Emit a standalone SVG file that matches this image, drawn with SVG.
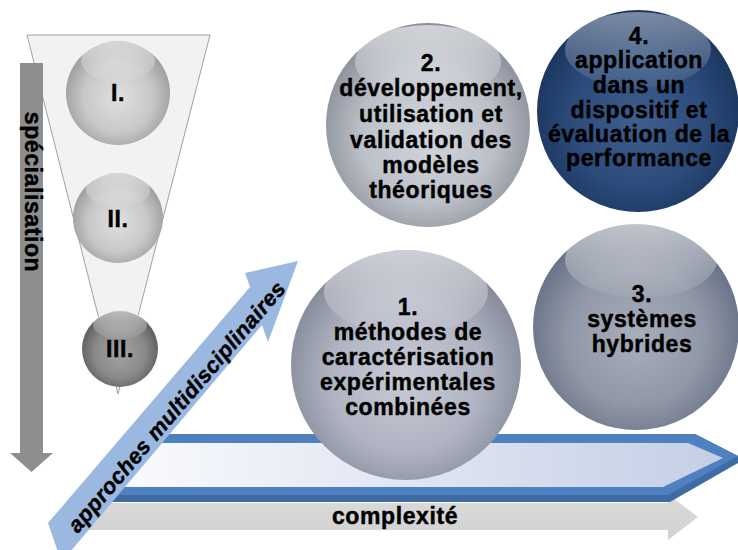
<svg xmlns="http://www.w3.org/2000/svg" width="738" height="550" viewBox="0 0 738 550">
<style>
  .t{font-family:"Liberation Sans",Arial,sans-serif;font-weight:bold;font-size:23px;fill:#000;stroke:#000;stroke-width:0.45px;text-anchor:middle;letter-spacing:0.6px}
  .ti{font-style:italic;font-size:22px;letter-spacing:0.4px}
</style>
<defs>
  <radialGradient id="gS1" cx="50%" cy="55%" r="55%">
    <stop offset="0" stop-color="#c8cbd6"/><stop offset="0.6" stop-color="#b0b4c2"/><stop offset="1" stop-color="#838898"/>
  </radialGradient>
  <radialGradient id="gS2" cx="50%" cy="55%" r="55%">
    <stop offset="0" stop-color="#d3d6dd"/><stop offset="0.6" stop-color="#bcc0c8"/><stop offset="1" stop-color="#898e99"/>
  </radialGradient>
  <radialGradient id="gS3" cx="50%" cy="55%" r="55%">
    <stop offset="0" stop-color="#a9aebb"/><stop offset="0.6" stop-color="#9097a6"/><stop offset="1" stop-color="#667085"/>
  </radialGradient>
  <radialGradient id="gS4" cx="50%" cy="55%" r="55%">
    <stop offset="0" stop-color="#3f5f8d"/><stop offset="0.6" stop-color="#2c4b7a"/><stop offset="1" stop-color="#19345e"/>
  </radialGradient>
  <radialGradient id="gL1" cx="50%" cy="55%" r="55%">
    <stop offset="0" stop-color="#e0e0e0"/><stop offset="0.6" stop-color="#c8c8c8"/><stop offset="1" stop-color="#9a9a9a"/>
  </radialGradient>
  <radialGradient id="gL3" cx="50%" cy="55%" r="55%">
    <stop offset="0" stop-color="#a4a4a4"/><stop offset="0.6" stop-color="#8a8a8a"/><stop offset="1" stop-color="#595959"/>
  </radialGradient>
  <linearGradient id="hl" x1="0" y1="0" x2="0" y2="1">
    <stop offset="0" stop-color="#fff" stop-opacity="0.6"/><stop offset="1" stop-color="#fff" stop-opacity="0.05"/>
  </linearGradient>
  <linearGradient id="hl4" x1="0" y1="0" x2="0" y2="1">
    <stop offset="0" stop-color="#fff" stop-opacity="0.42"/><stop offset="1" stop-color="#fff" stop-opacity="0.06"/>
  </linearGradient>
  <linearGradient id="band" x1="0" y1="0" x2="1" y2="0">
    <stop offset="0" stop-color="#fafbfd"/><stop offset="1" stop-color="#c4cfe6"/>
  </linearGradient>
  <linearGradient id="grayBar" x1="0" y1="0" x2="0" y2="1">
    <stop offset="0" stop-color="#dadada"/><stop offset="1" stop-color="#d2d2d2"/>
  </linearGradient>
</defs>

<g id="funnel">
  <polygon points="27,35 210,35 118,394" fill="#f2f2f2" stroke="#a0a0a0" stroke-width="1"/>
</g>

<g id="n-I">
  <circle cx="118" cy="93" r="52" fill="url(#gL1)"/>
  <ellipse cx="118" cy="61" rx="37" ry="20" fill="url(#hl)"/>
  <text class="t" x="118" y="101">I.</text>
</g>
<g id="n-II">
  <circle cx="118" cy="218" r="45" fill="url(#gL1)"/>
  <ellipse cx="118" cy="190" rx="32" ry="17" fill="url(#hl)"/>
  <text class="t" x="118" y="227">II.</text>
</g>
<g id="n-III">
  <circle cx="120" cy="349" r="38" fill="url(#gL3)"/>
  <ellipse cx="120" cy="325" rx="27" ry="14" fill="url(#hl)"/>
  <text class="t" x="120" y="357">III.</text>
</g>

<g id="connectors">
  <g id="axis-specialisation">
    <polygon points="20,63 43,63 43,453 53,453 31.5,472 10,453 20,453" fill="#8e8e8e"/>
    <text class="t" transform="translate(25,192) rotate(90)" x="0" y="0">spécialisation</text>
  </g>
  <g id="axis-complexite">
    <polygon points="85,503 668,503 668,494 698,517 668,540 668,530 85,530" fill="url(#grayBar)"/>
    <text class="t" x="395" y="524">complexité</text>
  </g>
  <g id="band-arrow">
    <polygon points="130,434 695,434 738,456 738,463 670,502 106,502" fill="#3f6ba5"/>
    <polygon points="130,434 695,434 738,456 668,495 108,495" fill="#4f81c0"/>
    <polygon points="127,443 688,443 723,458 663,487 113,487" fill="url(#band)"/>
  </g>
</g>

<g id="n1">
  <circle cx="406" cy="365" r="115" fill="url(#gS1)"/>
  <ellipse cx="406" cy="292" rx="82" ry="42" fill="url(#hl)"/>
  <text class="t" x="408" y="315">1.</text>
  <text class="t" x="408" y="340">méthodes de</text>
  <text class="t" x="408" y="365">caractérisation</text>
  <text class="t" x="408" y="390">expérimentales</text>
  <text class="t" x="408" y="415">combinées</text>
</g>

<g id="n2">
  <circle cx="428" cy="125" r="102" fill="url(#gS2)"/>
  <ellipse cx="428" cy="62" rx="73" ry="37" fill="url(#hl)"/>
  <text class="t" x="431" y="71">2.</text>
  <text class="t" x="431" y="96">développement,</text>
  <text class="t" x="431" y="122">utilisation et</text>
  <text class="t" x="431" y="148">validation des</text>
  <text class="t" x="431" y="173">modèles</text>
  <text class="t" x="431" y="198">théoriques</text>
</g>

<g id="n3">
  <circle cx="636" cy="327" r="103" fill="url(#gS3)"/>
  <ellipse cx="641" cy="260" rx="76" ry="38" fill="url(#hl)"/>
  <text class="t" x="642" y="302">3.</text>
  <text class="t" x="642" y="327">systèmes</text>
  <text class="t" x="642" y="352">hybrides</text>
</g>

<g id="n4">
  <circle cx="638" cy="111" r="101" fill="url(#gS4)"/>
  <ellipse cx="638" cy="50" rx="73" ry="38" fill="url(#hl4)"/>
  <text class="t" x="639" y="44">4.</text>
  <text class="t" x="639" y="68">application</text>
  <text class="t" x="639" y="93">dans un</text>
  <text class="t" x="639" y="118">dispositif et</text>
  <text class="t" x="639" y="142">évaluation de la</text>
  <text class="t" x="639" y="166">performance</text>
</g>

<g id="axis-multidisciplinaire">
  <polygon points="48,523 250,287 245,273 298,261 268,342 262,325 70,552 58,552" fill="#9ab8e0"/>
  <text class="t ti" transform="translate(177,407) rotate(-49.5)" x="0" y="7">approches multidisciplinaires</text>
</g>
</svg>
